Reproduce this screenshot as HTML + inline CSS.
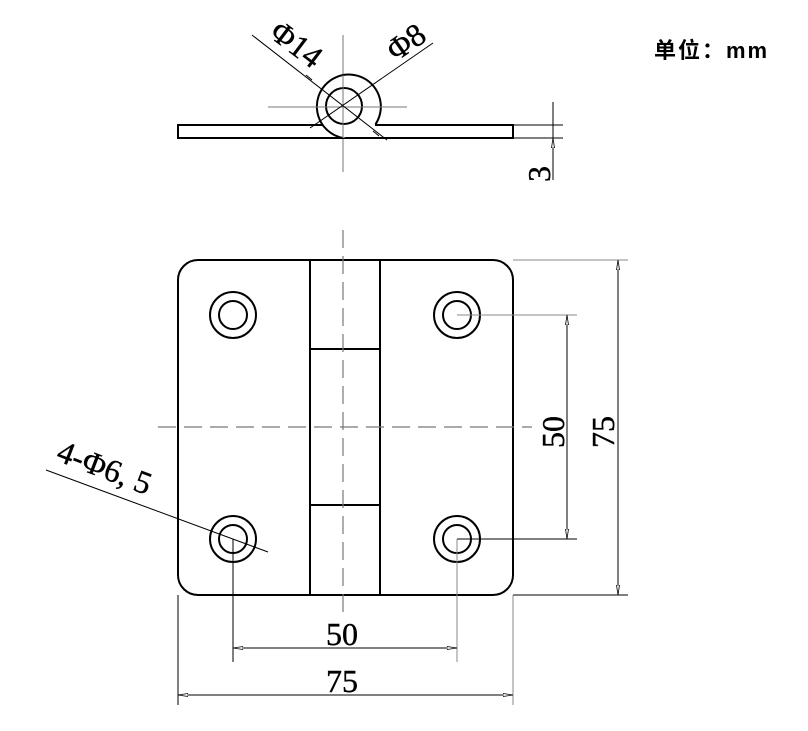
<!DOCTYPE html>
<html><head><meta charset="utf-8"><style>
html,body{margin:0;padding:0;background:#fff;}
svg{display:block;}
.t{font-family:"Liberation Serif",serif;font-size:32px;fill:#000;stroke:#000;stroke-width:0.4;}
</style></head><body>
<svg width="808" height="731" viewBox="0 0 808 731" xmlns="http://www.w3.org/2000/svg">
<defs>
<marker id="a" viewBox="0 0 10 4" refX="10" refY="2" markerWidth="10" markerHeight="4" orient="auto-start-reverse" markerUnits="userSpaceOnUse"><path d="M0,0.5 L10,2 L0,3.5 Z" fill="#fff" stroke="#000" stroke-width="0.8"/></marker>
</defs>
<!-- unit -->
<text x="654" y="58" font-family="'Liberation Sans','Noto Sans CJK SC',sans-serif" font-weight="bold" font-size="22" letter-spacing="2">单位：mm</text>

<!-- TOP VIEW -->
<g stroke="#777" stroke-width="1" fill="none">
<line x1="343" y1="35" x2="343" y2="172"/>
<line x1="268" y1="107" x2="407" y2="107"/>
</g>
<rect x="178" y="125" width="335" height="13" fill="#fff" stroke="#000" stroke-width="2"/>
<path d="M343,138 A32,32 0 1 1 375,125" fill="#fff" stroke="#000" stroke-width="2"/>
<line x1="343" y1="125" x2="375" y2="125" stroke="#fff" stroke-width="3"/>
<circle cx="344" cy="106" r="18" fill="none" stroke="#000" stroke-width="2"/>
<line x1="343" y1="75" x2="343" y2="138" stroke="#777" stroke-width="1"/>
<line x1="268" y1="107" x2="407" y2="107" stroke="#777" stroke-width="1"/>
<!-- leaders -->
<line x1="252" y1="35" x2="387" y2="140" stroke="#000" stroke-width="1" />
<line x1="433" y1="43" x2="310" y2="128" stroke="#000" stroke-width="1"/>
<path d="M312,80 l-6,-5 M379,136 l-6,-5" stroke="#000"/>
<text class="t" transform="translate(268,36) rotate(37)">Φ14</text>
<text class="t" transform="translate(396,62) rotate(-35)">Φ8</text>
<!-- 3 dim -->
<g stroke="#000" stroke-width="1">
<line x1="513" y1="125" x2="563" y2="125"/>
<line x1="513" y1="138" x2="563" y2="138"/>
<line x1="553" y1="102" x2="553" y2="180"/>
</g>
<path d="M553,112 L553,125 M553,151 L553,138" stroke="#000" marker-end="url(#a)"/>
<text class="t" transform="translate(550,182) rotate(-90)">3</text>

<!-- FRONT VIEW -->
<rect x="178" y="260" width="335" height="335" rx="20" fill="none" stroke="#000" stroke-width="2"/>
<g stroke="#000" stroke-width="2" fill="none">
<line x1="310" y1="260" x2="310" y2="595"/>
<line x1="380" y1="260" x2="380" y2="595"/>
<line x1="310" y1="349" x2="380" y2="349"/>
<line x1="310" y1="505" x2="380" y2="505"/>
<circle cx="233" cy="315" r="23"/><circle cx="233" cy="315" r="14"/>
<circle cx="457" cy="315" r="23"/><circle cx="457" cy="315" r="14"/>
<circle cx="233" cy="539" r="23"/><circle cx="233" cy="539" r="14"/>
<circle cx="457" cy="539" r="23"/><circle cx="457" cy="539" r="14"/>
</g>
<g stroke="#777" stroke-width="1.2" fill="none" stroke-dasharray="18,8">
<line x1="343" y1="230" x2="343" y2="612"/>
<line x1="158" y1="427" x2="532" y2="427"/>
</g>
<!-- right dims -->
<g stroke="#000" stroke-width="1" fill="none">
<line x1="457" y1="315" x2="577" y2="315" stroke="#888"/>
<line x1="457" y1="539" x2="577" y2="539"/>
<line x1="513" y1="260" x2="628" y2="260" stroke="#888"/>
<line x1="513" y1="595" x2="628" y2="595"/>
<line x1="567" y1="315" x2="567" y2="539" marker-start="url(#a)" marker-end="url(#a)"/>
<line x1="618" y1="260" x2="618" y2="595" marker-start="url(#a)" marker-end="url(#a)"/>
<!-- bottom dims -->
<line x1="233" y1="539" x2="233" y2="662"/>
<line x1="457" y1="539" x2="457" y2="662" stroke="#888"/>
<line x1="178" y1="595" x2="178" y2="705"/>
<line x1="513" y1="595" x2="513" y2="705" stroke="#888"/>
<line x1="233" y1="648" x2="457" y2="648" marker-start="url(#a)" marker-end="url(#a)"/>
<line x1="178" y1="695" x2="513" y2="695" marker-start="url(#a)" marker-end="url(#a)"/>
<!-- leader -->
<line x1="46" y1="470" x2="268" y2="552"/>
</g>
<text class="t" transform="translate(564,448) rotate(-90)">50</text>
<text class="t" transform="translate(614,448) rotate(-90)">75</text>
<text class="t" x="326" y="645">50</text>
<text class="t" x="326" y="692">75</text>
<text class="t" transform="translate(55,460) rotate(21)">4-Φ6, 5</text>
</svg>
</body></html>
